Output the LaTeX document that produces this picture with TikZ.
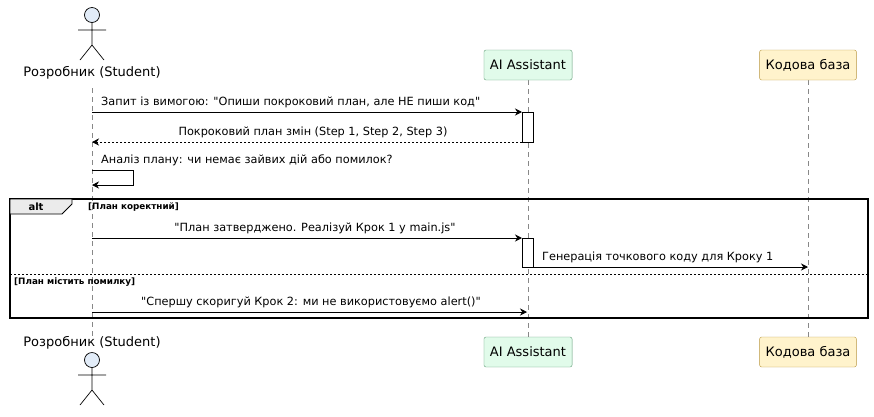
\documentclass[tikz,border=0pt]{standalone}
\usepackage{fontspec}
\setmainfont{DejaVu Sans}
\newcommand\dq{\XeTeXglyph\XeTeXcharglyph"22\relax}
\usetikzlibrary{arrows.meta}
\definecolor{actfill}{HTML}{E2ECF8}
\definecolor{aifill}{HTML}{E1FBEA}
\definecolor{aidraw}{HTML}{5E9A74}
\definecolor{kbfill}{HTML}{FFF3CC}
\definecolor{kbdraw}{HTML}{B8963E}
\definecolor{ll}{HTML}{888888}
\begin{document}
\begin{tikzpicture}[x=1pt,y=-1pt,
  part/.style={draw, rounded corners=2pt, minimum height=30, inner xsep=6, font=\fontsize{13}{15}\selectfont},
  msg/.style={font=\fontsize{11.3}{13}\selectfont, inner sep=1},
  guard/.style={font=\bfseries\fontsize{8.8}{10}\selectfont, inner sep=1},
  arr/.style={-{Stealth[length=7,width=7]}, line width=0.8},
  ret/.style={-{Stealth[length=7,width=7]}, line width=0.6, dash pattern=on 2pt off 2pt},
  life/.style={ll, dash pattern=on 5pt off 4pt, line width=0.6},
  act/.style={draw, fill=white, line width=0.7},
  alabel/.style={font=\fontsize{13}{15}\selectfont, inner sep=0}]
\useasboundingbox (0,0) rectangle (874,416);
% lifelines
\draw[life] (92,88) -- (92,337);
\draw[life] (528,80) -- (528,337);
\draw[life] (808,80) -- (808,337);
% actors
\foreach \y in {0,345}{
  \draw[fill=actfill, line width=0.7] (92,\y+15) circle (7.5);
  \draw[line width=0.7] (92,\y+22.5) -- (92,\y+45) (78,\y+30) -- (106,\y+30)
     (92,\y+45) -- (80,\y+60) (92,\y+45) -- (104,\y+60);
}
\node[alabel] (devtop) at (92,73) {Розробник (Student)};
\node[alabel] (devbot) at (92,343) {Розробник (Student)};
\node[part, fill=aifill, draw=aidraw] (aitop) at (528,65) {AI Assistant};
\node[part, fill=aifill, draw=aidraw] (aibot) at (528,352) {AI Assistant};
\node[part, fill=kbfill, draw=kbdraw] (kbtop) at (808,65) {Кодова база};
\node[part, fill=kbfill, draw=kbdraw] (kbbot) at (808,352) {Кодова база};
% activations
\draw[act] (522,112) rectangle (533,142);
\draw[act] (522,238) rectangle (533,267);
\coordinate (d1) at (92,112); \coordinate (a1) at (522,112);
\draw[arr] (d1) -- (a1);
\node[msg, anchor=south west] at (100,109) {Запит із вимогою: \dq Опиши покроковий план, але НЕ пиши код\dq};
\coordinate (a2) at (522,142); \coordinate (d2) at (92,142);
\draw[ret] (a2) -- (d2);
\node[msg, anchor=south] at (313,139) {Покроковий план змін (Step 1, Step 2, Step 3)};
\coordinate (s1) at (92,170); \coordinate (s2) at (92,185);
\draw[arr] (s1) -- (133,170) -- (133,185) -- (s2);
\node[msg, anchor=south west] at (100,167) {Аналіз плану: чи немає зайвих дій або помилок?};
% alt frame
\draw[line width=1.1] (10,199) rectangle (868,318);
\draw[fill=black!8, line width=0.8] (10,199) -- (72,199) -- (72,204) -- (62,214) -- (10,214) -- cycle;
\node[font=\bfseries\fontsize{10}{11}\selectfont] (alt) at (36,206.5) {alt};
\node[guard, anchor=west] at (87,207) {[План коректний]};
\draw[dash pattern=on 2pt off 2pt, line width=0.6] (10,274) -- (868,274);
\node[guard, anchor=west] at (13,282) {[План містить помилку]};
\coordinate (d3) at (92,238); \coordinate (a3) at (522,238);
\draw[arr] (d3) -- (a3);
\node[msg, anchor=south] at (315,235) {\dq План затверджено. Реалізуй Крок 1 у main.js\dq};
\coordinate (a4) at (533,267); \coordinate (k4) at (808,267);
\draw[arr] (a4) -- (k4);
\node[msg, anchor=south west] at (541,264) {Генерація точкового коду для Кроку 1};
\coordinate (d5) at (92,312); \coordinate (a5) at (527,312);
\draw[arr] (d5) -- (a5);
\node[msg, anchor=south] at (311,309) {\dq Спершу скоригуй Крок 2: ми не використовуємо alert()\dq};
\end{tikzpicture}
\end{document}
